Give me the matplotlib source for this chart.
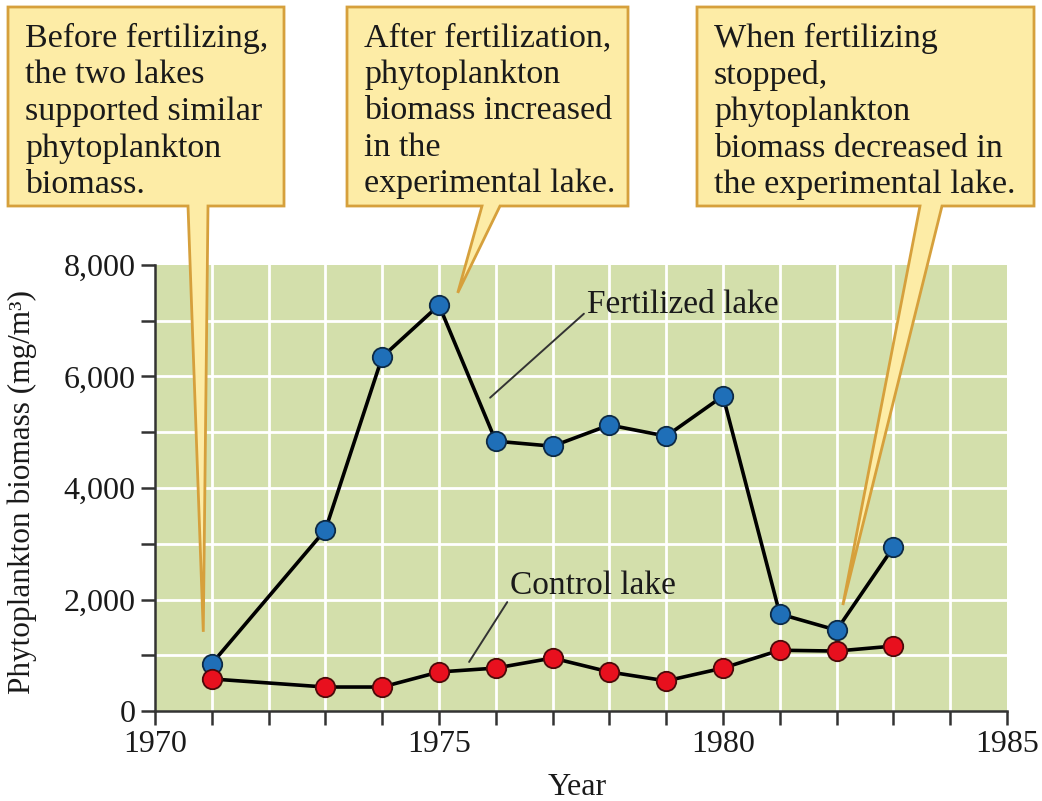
import matplotlib.pyplot as plt
from matplotlib.patches import Polygon
import numpy as np

plt.rcParams['font.family'] = ['Liberation Serif', 'DejaVu Serif']

years_fert = [1971, 1973, 1974, 1975, 1976, 1977, 1978, 1979, 1980, 1981, 1982, 1983]
fertilized = [850, 3250, 6350, 7280, 4840, 4750, 5130, 4930, 5650, 1740, 1450, 2940]
years_ctrl = [1971, 1973, 1974, 1975, 1976, 1977, 1978, 1979, 1980, 1981, 1982, 1983]
control = [575, 430, 430, 700, 770, 950, 700, 540, 770, 1090, 1075, 1165]

callout_texts = [
    "Before fertilizing,\nthe two lakes\nsupported similar\nphytoplankton\nbiomass.",
    "After fertilization,\nphytoplankton\nbiomass increased\nin the\nexperimental lake.",
    "When fertilizing\nstopped,\nphytoplankton\nbiomass decreased in\nthe experimental lake.",
]
# where each callout points, in data units (year, biomass)
callout_tips = [(1970.85, 1420), (1975.33, 7500), (1982.11, 1900)]

W, H = 1042, 801
fig = plt.figure(figsize=(W / 100, H / 100), dpi=100)
ax = fig.add_axes([155 / W, 90 / H, 852 / W, 446 / H])

ax.set_facecolor('#d3dfab')
ax.set_xlim(1970, 1985)
ax.set_ylim(0, 8000)
for yr in range(1971, 1985):
    ax.axvline(yr, color='white', lw=2, zorder=1)
for v in range(1000, 8000, 1000):
    ax.axhline(v, color='white', lw=2, zorder=1)

ax.plot(years_fert, fertilized, color='black', lw=2.6, marker='o', ms=14,
        mfc='#1f6fb8', mec='#0d2a45', mew=1.3, zorder=3)
ax.plot(years_ctrl, control, color='black', lw=2.6, marker='o', ms=14,
        mfc='#e8101e', mec='#4a0a0a', mew=1.3, zorder=3)

ax.annotate("Fertilized lake", xy=(1975.9, 5620), xytext=(1977.6, 7280),
            fontsize=24, color='#1a1a1a', va='center', ha='left',
            arrowprops=dict(arrowstyle='-', color='#333333', lw=1.4,
                            shrinkA=0, shrinkB=0, relpos=(0, 0.3)), zorder=4)
ax.annotate("Control lake", xy=(1975.53, 880), xytext=(1976.25, 2250),
            fontsize=24, color='#1a1a1a', va='center', ha='left',
            arrowprops=dict(arrowstyle='-', color='#333333', lw=1.4,
                            shrinkA=0, shrinkB=0, relpos=(0, 0.1)), zorder=4)

for s in ['top', 'right']:
    ax.spines[s].set_visible(False)
for s in ['left', 'bottom']:
    ax.spines[s].set_color('#333333')
    ax.spines[s].set_linewidth(1.8)

ax.set_xticks(range(1970, 1986))
ax.set_xticklabels([str(y) if y % 5 == 0 else '' for y in range(1970, 1986)])
ax.set_yticks(range(0, 8001, 1000))
ax.set_yticklabels(['{:,}'.format(v) if v % 2000 == 0 else '' for v in range(0, 8001, 1000)])
ax.tick_params(axis='both', direction='out', length=10, width=1.8,
               color='#333333', labelsize=23, labelcolor='#1a1a1a', pad=4)

ax.set_ylabel("Phytoplankton biomass (mg/m³)", fontsize=22.5, color='#1a1a1a')
ax.yaxis.set_label_coords(-0.138, 0.49)
ax.set_xlabel("Year", fontsize=23, color='#1a1a1a')
ax.xaxis.set_label_coords(0.495, -0.14)

# callout boxes, in figure pixels measured from the top-left corner
boxes = [(8, 7, 284, 206), (347, 7, 628, 206), (697, 7, 1034, 206)]
tails = [(188, 208), (482, 500), (920, 942)]

fig.canvas.draw()
for (x0, y0, x1, y1), (a, b), tip, txt in zip(boxes, tails, callout_tips, callout_texts):
    tx, ty = ax.transData.transform(tip)
    ty = H - ty
    pts = [(x0, y0), (x1, y0), (x1, y1), (b, y1), (tx, ty), (a, y1), (x0, y1)]
    pts = [(px / W, 1 - py / H) for px, py in pts]
    fig.patches.append(Polygon(pts, closed=True, transform=fig.transFigure,
                               facecolor='#fdeca6', edgecolor='#d6a03c', lw=2,
                               joinstyle='miter', zorder=5))
    fig.text((x0 + 17) / W, 1 - (y0 + 16) / H, txt, fontsize=24.5, color='#1a1a1a',
             ha='left', va='top', linespacing=1.25, zorder=6)

fig.savefig('out.png', dpi=100, facecolor='white')
